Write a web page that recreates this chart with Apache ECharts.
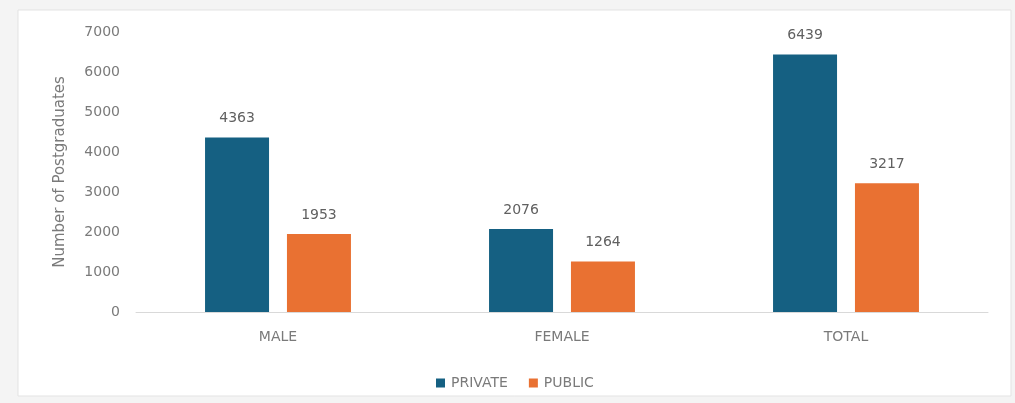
<!DOCTYPE html>
<html>
<head>
<meta charset="utf-8">
<script src="https://cdn.jsdelivr.net/npm/echarts@6/dist/echarts.min.js"></script>
<style>
html,body{margin:0;padding:0;background:#f4f4f4;}
#chart{width:1015px;height:403px;}
</style>
</head>
<body>
<div id="chart"></div>
<script>
const categories = ['MALE', 'FEMALE', 'TOTAL'];
const privateValues = [4363, 2076, 6439];
const publicValues = [1953, 1264, 3217];
const seriesNames = ['PRIVATE', 'PUBLIC'];
const yAxisName = 'Number of Postgraduates';

const chart = echarts.init(document.getElementById('chart'));
const font = '"DejaVu Sans", sans-serif';
const textColor = '#7a7a7a';
const labelStyle = { show: true, position: 'top', distance: 12, color: '#606060', fontSize: 14, fontFamily: font };
chart.setOption({
  backgroundColor: '#f4f4f4',
  animation: false,
  graphic: [{
    type: 'rect', silent: true, z: -100,
    shape: { x: 18, y: 10, width: 993, height: 386 },
    style: { fill: '#ffffff', stroke: '#e3e3e3', lineWidth: 1 }
  }],
  grid: { left: 136, right: 27, top: 32, bottom: 91 },
  legend: {
    data: seriesNames, top: 371, left: 431,
    itemWidth: 9, itemHeight: 9, itemGap: 21, icon: 'rect',
    textStyle: { color: textColor, fontSize: 14, fontFamily: font, padding: [0, 0, 0, 1] }
  },
  xAxis: {
    type: 'category', data: categories,
    axisLine: { lineStyle: { color: '#d9d9d9' } },
    axisTick: { show: false },
    axisLabel: { color: textColor, fontSize: 14, fontFamily: font, margin: 18 }
  },
  yAxis: {
    type: 'value', min: 0, max: 7000, interval: 1000,
    name: yAxisName, nameLocation: 'middle', nameGap: 68,
    nameTextStyle: { color: textColor, fontSize: 15, fontFamily: font },
    splitLine: { show: false },
    axisLine: { show: false },
    axisLabel: { color: textColor, fontSize: 14, fontFamily: font, margin: 16, formatter: v => String(v) }
  },
  series: [
    { name: seriesNames[0], type: 'bar', data: privateValues, barWidth: 64, barGap: '28%',
      itemStyle: { color: '#156082' }, label: labelStyle },
    { name: seriesNames[1], type: 'bar', data: publicValues, barWidth: 64,
      itemStyle: { color: '#E97132' }, label: labelStyle }
  ]
});
</script>
</body>
</html>
